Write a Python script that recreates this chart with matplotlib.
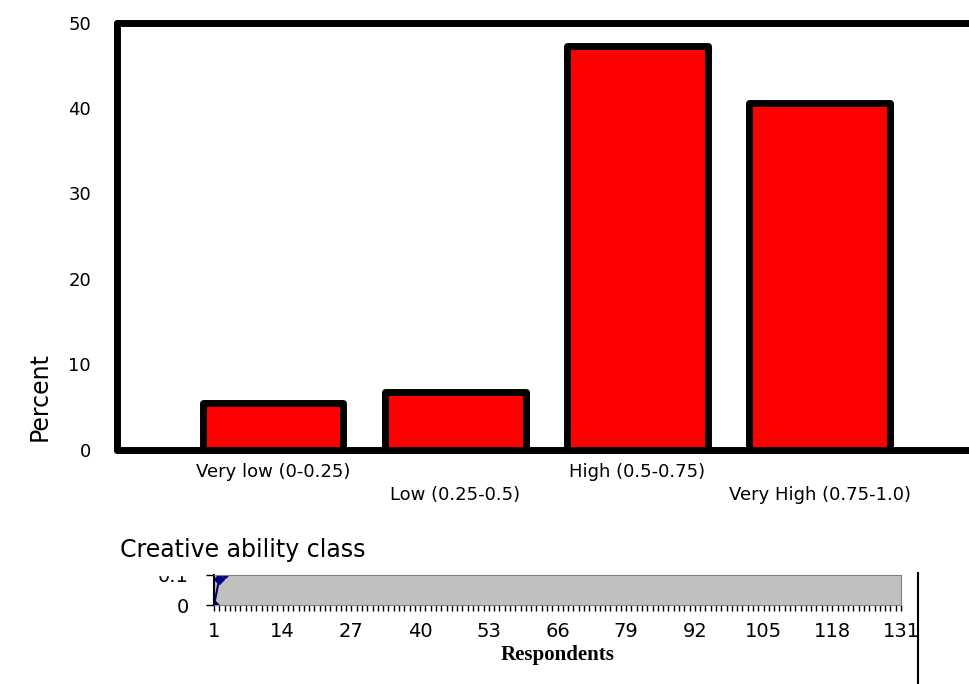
import matplotlib.pyplot as plt
from matplotlib.lines import Line2D
from matplotlib.patches import Rectangle

# main bar chart data
classes = ['Very low (0-0.25)', 'Low (0.25-0.5)', 'High (0.5-0.75)', 'Very High (0.75-1.0)']
percent = [5.4, 6.7, 47.3, 40.6]
y_ticks = [0, 10, 20, 30, 40, 50]

# leftover respondents chart at the bottom
resp_x = [1, 2, 3]
resp_y = [0, 0.088, 0.108]
resp_ticks = [1, 14, 27, 40, 53, 66, 79, 92, 105, 118, 131]

fig = plt.figure(figsize=(9.70, 6.84), dpi=100)

# Main axes
ax1 = fig.add_axes([0.1211, 0.3428, 1.0 - 0.1211, 0.9671 - 0.3428])
pos = list(range(len(classes)))
bars = ax1.bar(pos, percent, width=0.77, color='#ff0000', edgecolor='black', linewidth=5, zorder=3)
for b in bars:
    b.set_joinstyle('round')
ax1.set_xlim(-0.856, 3.826)
ax1.set_ylim(0, 50)
ax1.set_yticks(y_ticks)
ax1.set_yticklabels([str(t) for t in y_ticks], fontsize=13)
ax1.tick_params(axis='y', length=0, pad=19)
ax1.set_xticks(pos)
labels = [c if i % 2 == 0 else '\n' + c for i, c in enumerate(classes)]
ax1.set_xticklabels(labels, fontsize=13, linespacing=1.3)
ax1.tick_params(axis='x', length=0, pad=10)
for s in ['top', 'left', 'bottom']:
    ax1.spines[s].set_linewidth(5)
    ax1.spines[s].set_capstyle('round')
ax1.spines['right'].set_visible(False)

fig.text(0.041, 0.4196, 'Percent', rotation=90, fontsize=17, ha='center', va='center')
fig.text(0.124, 0.196, 'Creative ability class', fontsize=17, ha='left', va='center')

# Bottom residual chart
ax2 = fig.add_axes([0.2206, 0.1148, 0.9289 - 0.2206, 0.1594 - 0.1148])
ax2.set_facecolor('#c0c0c0')
ax2.plot(resp_x, resp_y, color='#000080', marker='D', markersize=5, linewidth=1.5)
ax2.set_xlim(1, 131)
ax2.set_ylim(0, 0.1)
ax2.set_yticks([0, 0.1])
ax2.set_yticklabels(['0', '0.1'], fontsize=14)
ax2.set_xticks(resp_ticks)
ax2.set_xticklabels([str(t) for t in resp_ticks], fontsize=14)
ax2.set_xticks(range(1, 132), minor=True)
ax2.tick_params(axis='x', which='both', direction='out', length=4, width=1, pad=8)
ax2.tick_params(axis='y', direction='out', length=6, width=1, pad=12)
ax2.spines['left'].set_color('black')
ax2.spines['left'].set_linewidth(1.5)
for s in ['top', 'right', 'bottom']:
    ax2.spines[s].set_color('#808080')
ax2.set_xlabel('Respondents', fontsize=15, fontweight='bold', family='Liberation Serif', labelpad=3)

# right frame line and clipped top of the small chart
fig.add_artist(Line2D([918 / 970, 918 / 970], [0, 1 - 573 / 684], color='black', linewidth=1.5))
fig.add_artist(Rectangle((120 / 970, 1 - 575 / 684), 81 / 970, 10 / 684,
                         transform=fig.transFigure, color='white', zorder=5))

fig.savefig('out.png', dpi=100)
